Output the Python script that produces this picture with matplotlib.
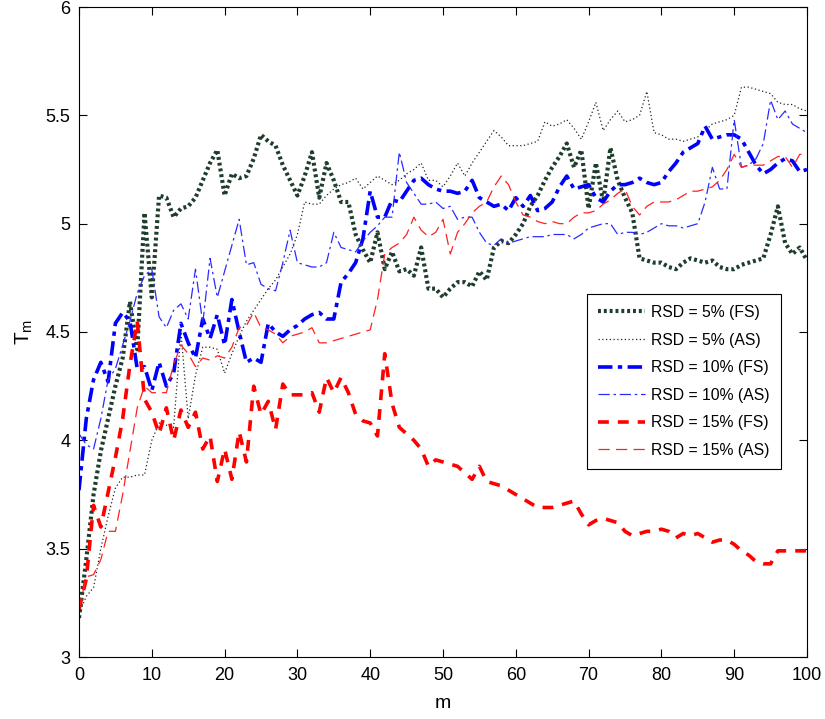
import matplotlib
matplotlib.use("Agg")
import matplotlib.pyplot as plt
import numpy as np

plt.rcParams['font.family'] = ['Liberation Sans', 'DejaVu Sans']

m = list(range(101))

fs5 = [3.18, 3.45, 3.75, 3.95, 4.1, 4.25, 4.38, 4.64, 4.42, 5.05, 4.66, 5.13, 5.12, 5.03, 5.07, 5.08, 5.12, 5.2, 5.28, 5.34,
       5.13, 5.23, 5.21, 5.22, 5.3, 5.41, 5.38, 5.36, 5.27, 5.2, 5.13, 5.22, 5.33, 5.12, 5.28, 5.2, 5.1, 5.1, 4.95, 4.88,
       4.82, 4.96, 4.79, 4.87, 4.78, 4.79, 4.76, 4.89, 4.7, 4.7, 4.66, 4.7, 4.73, 4.73, 4.71, 4.78, 4.74, 4.89, 4.92, 4.91,
       4.95, 5.0, 5.08, 5.13, 5.2, 5.26, 5.31, 5.37, 5.26, 5.34, 5.07, 5.28, 5.1, 5.35, 5.2, 5.12, 5.05, 4.84, 4.83, 4.82,
       4.82, 4.8, 4.79, 4.82, 4.84, 4.83, 4.82, 4.83, 4.8, 4.79, 4.79, 4.81, 4.82, 4.83, 4.84, 4.95, 5.08, 4.91, 4.86, 4.89,
       4.83]

as5 = [3.2, 3.28, 3.32, 3.5, 3.65, 3.78, 3.83, 3.83, 3.84, 3.84, 4.0, 4.08, 4.07, 4.06, 4.5, 4.1, 4.3, 4.43, 4.43, 4.42,
       4.31, 4.4, 4.48, 4.55, 4.6, 4.65, 4.7, 4.74, 4.8, 4.86, 4.95, 5.1, 5.09, 5.09, 5.13, 5.16, 5.18, 5.19, 5.21, 5.16,
       5.19, 5.22, 5.2, 5.18, 5.2, 5.23, 5.25, 5.28, 5.2, 5.2, 5.17, 5.22, 5.28, 5.22, 5.28, 5.33, 5.38, 5.43, 5.4, 5.36,
       5.36, 5.36, 5.37, 5.38, 5.47, 5.45, 5.46, 5.48, 5.44, 5.39, 5.47, 5.56, 5.43, 5.48, 5.52, 5.47, 5.48, 5.5, 5.61, 5.42,
       5.41, 5.39, 5.39, 5.38, 5.39, 5.4, 5.43, 5.46, 5.47, 5.48, 5.5, 5.63, 5.63, 5.62, 5.61, 5.6, 5.56, 5.55, 5.55, 5.53,
       5.52]

fs10 = [3.77, 4.1, 4.28, 4.36, 4.27, 4.54, 4.59, 4.55, 4.33, 4.34, 4.23, 4.36, 4.25, 4.31, 4.54, 4.45, 4.38, 4.56, 4.47, 4.58,
        4.44, 4.65, 4.5, 4.36, 4.38, 4.36, 4.54, 4.5, 4.48, 4.51, 4.53, 4.56, 4.58, 4.59, 4.56, 4.56, 4.73, 4.77, 4.82, 4.93,
        5.15, 5.03, 5.03, 5.11, 5.1, 5.15, 5.2, 5.21, 5.18, 5.16, 5.15, 5.15, 5.14, 5.15, 5.2, 5.12, 5.1, 5.08, 5.09, 5.06,
        5.12, 5.08, 5.13, 5.06, 5.07, 5.1, 5.17, 5.22, 5.16, 5.17, 5.18, 5.12, 5.1, 5.15, 5.18, 5.18, 5.19, 5.21, 5.19, 5.18,
        5.19, 5.24, 5.28, 5.33, 5.35, 5.37, 5.45, 5.39, 5.4, 5.41, 5.41, 5.39, 5.33, 5.27, 5.23, 5.25, 5.28, 5.3, 5.29, 5.24,
        5.25]

as10 = [4.03, 3.98, 3.96, 4.1, 4.28, 4.33, 4.44, 4.55, 4.68, 4.76, 4.79, 4.57, 4.52, 4.6, 4.63, 4.56, 4.79, 4.54, 4.84, 4.66,
        4.78, 4.9, 5.02, 4.81, 4.82, 4.72, 4.7, 4.69, 4.82, 4.97, 4.82, 4.81, 4.8, 4.8, 4.82, 4.96, 4.89, 4.88, 4.87, 4.92,
        4.96, 4.99, 5.03, 5.03, 5.33, 5.19, 5.14, 5.09, 5.09, 5.1, 5.07, 5.08, 5.02, 5.03, 5.03, 4.96, 4.91, 4.9, 4.93, 4.91,
        4.92, 4.93, 4.94, 4.94, 4.94, 4.95, 4.95, 4.95, 4.93, 4.95, 4.98, 4.99, 5.0, 5.0, 4.95, 4.96, 4.96, 4.95, 4.96, 4.98,
        5.0, 4.99, 4.99, 4.98, 4.99, 5.0, 5.1, 5.26, 5.16, 5.16, 5.48, 5.26, 5.27, 5.3, 5.37, 5.57, 5.48, 5.52, 5.46, 5.44,
        5.42]

fs15 = [3.22, 3.36, 3.7, 3.6, 3.76, 3.92, 4.1, 4.35, 4.55, 4.19, 4.13, 4.03, 4.15, 4.0, 4.14, 4.06, 4.13, 3.96, 4.02, 3.81,
        3.96, 3.82, 4.04, 3.9, 4.25, 4.12, 4.18, 4.05, 4.26, 4.21, 4.21, 4.21, 4.22, 4.13, 4.29, 4.22, 4.29, 4.22, 4.12, 4.09,
        4.08, 4.02, 4.4, 4.17, 4.06, 4.03, 4.0, 3.96, 3.88, 3.91, 3.9, 3.89, 3.88, 3.85, 3.82, 3.88, 3.81, 3.8, 3.79, 3.77,
        3.75, 3.73, 3.71, 3.69, 3.69, 3.69, 3.7, 3.71, 3.72, 3.66, 3.61, 3.63, 3.64, 3.63, 3.62, 3.58, 3.56, 3.57, 3.58, 3.58,
        3.59, 3.58, 3.55, 3.57, 3.56, 3.57, 3.55, 3.53, 3.54, 3.54, 3.52, 3.49, 3.47, 3.44, 3.43, 3.43, 3.49, 3.49, 3.49, 3.49,
        3.49]

as15 = [3.22, 3.37, 3.38, 3.45, 3.58, 3.58, 3.75, 3.95, 4.15, 4.25, 4.22, 4.22, 4.22, 4.35, 4.44, 4.4, 4.34, 4.38, 4.37, 4.39,
        4.38, 4.43, 4.52, 4.53, 4.59, 4.52, 4.51, 4.49, 4.45, 4.48, 4.49, 4.5, 4.52, 4.45, 4.45, 4.46, 4.47, 4.48, 4.49, 4.5,
        4.51, 4.65, 4.86, 4.89, 4.91, 4.95, 5.03, 4.97, 4.94, 4.96, 5.02, 4.86, 4.96, 5.0, 5.05, 5.08, 5.1, 5.17, 5.22, 5.18,
        5.1, 5.04, 5.03, 5.01, 5.0, 5.01, 5.0, 5.0, 5.03, 5.05, 5.05, 5.06, 5.09, 5.11, 5.14, 5.16, 5.08, 5.04, 5.08, 5.1,
        5.1, 5.1, 5.11, 5.13, 5.15, 5.15, 5.16, 5.17, 5.2, 5.25, 5.32, 5.26, 5.27, 5.27, 5.27, 5.29, 5.31, 5.31, 5.26, 5.32,
        5.32]

labels = ['RSD = 5% (FS)', 'RSD = 5% (AS)', 'RSD = 10% (FS)', 'RSD = 10% (AS)', 'RSD = 15% (FS)', 'RSD = 15% (AS)']

fig = plt.figure(figsize=(8.25, 7.19), dpi=100)
ax = fig.add_axes([79/825, 1-657/719, (807-79)/825, (657-7)/719])

ax.plot(m, fs5, color='#1f3d2c', lw=3.0, linestyle=(0, (0.7, 0.7)), label=labels[0])
ax.plot(m, as5, color='#222222', lw=0.9, linestyle=(0, (1, 2)), label=labels[1])
ax.plot(m, fs10, color='#0000ff', lw=2.6, linestyle=(0, (4, 1.5, 1.2, 1.5)), label=labels[2])
ax.plot(m, as10, color='#2b2bff', lw=0.9, linestyle=(0, (9, 3, 2, 3)), label=labels[3])
ax.plot(m, fs15, color='#ff0000', lw=2.6, linestyle=(0, (3, 2.5)), label=labels[4])
ax.plot(m, as15, color='#ff2020', lw=0.9, linestyle=(0, (9, 5)), label=labels[5])

ax.set_xlim(0, 100)
ax.set_ylim(3, 6)
ax.set_xticks(np.arange(0, 101, 10))
ax.set_yticks([3, 3.5, 4, 4.5, 5, 5.5, 6])
ax.set_yticklabels(['3', '3.5', '4', '4.5', '5', '5.5', '6'])
ax.tick_params(direction='in', top=True, right=True, labelsize=13, length=6, width=0.8)
ax.tick_params(axis='x', pad=7)
ax.tick_params(axis='y', pad=6)
for s in ax.spines.values():
    s.set_linewidth(0.8)
ax.set_xlabel('m', fontsize=14, labelpad=8)
ax.set_ylabel('T$_\\mathregular{m}$', fontsize=15, labelpad=8)

leg = ax.legend(loc='upper left', bbox_to_anchor=((587-79)/728, (657-294)/650), fontsize=11.3,
                fancybox=False, edgecolor='black', framealpha=1, handlelength=3.0,
                borderpad=0.7, labelspacing=0.8, handletextpad=0.4, borderaxespad=0)
leg.get_frame().set_linewidth(0.8)

fig.savefig('out.png', dpi=100)
